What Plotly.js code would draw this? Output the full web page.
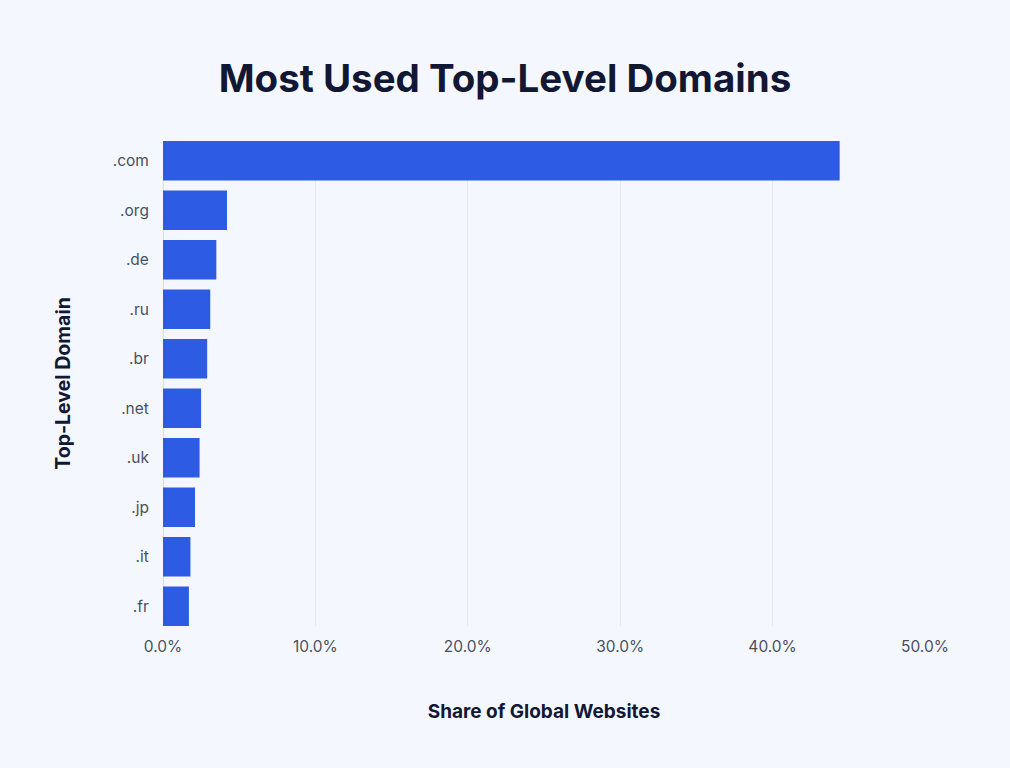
<!DOCTYPE html>
<html>
<head>
<meta charset="utf-8">
<script src="https://cdn.plot.ly/plotly-3.0.1.min.js"></script>
<style>
html,body{margin:0;padding:0;background:#f4f8fe;}
#chart{width:1010px;height:768px;}
</style>
</head>
<body>
<div id="chart"></div>
<script>
const domains = ['.com', '.org', '.de', '.ru', '.br', '.net', '.uk', '.jp', '.it', '.fr'];
const shares = [44.4, 4.2, 3.5, 3.1, 2.9, 2.5, 2.4, 2.1, 1.8, 1.7];
const xTickVals = [0, 10, 20, 30, 40, 50];
const xTickText = ['0.0%', '10.0%', '20.0%', '30.0%', '40.0%', '50.0%'];

const trace = {
  type: 'bar',
  orientation: 'h',
  x: shares,
  y: domains,
  marker: {color: '#2d5be3', line: {width: 0}},
  width: 0.8,
  hoverinfo: 'x+y'
};

const layout = {
  width: 1010,
  height: 768,
  paper_bgcolor: '#f4f8fe',
  plot_bgcolor: '#f4f8fe',
  margin: {l: 163, r: 85, t: 141, b: 142},
  showlegend: false,
  title: {
    text: '<b>Most Used Top-Level Domains</b>',
    font: {family: 'Inter, "Open Sans", sans-serif', size: 38.5, color: '#121733'},
    x: 0.5, xanchor: 'center',
    y: 0.898, yanchor: 'middle', yref: 'container'
  },
  xaxis: {
    range: [0, 50],
    tickvals: xTickVals,
    ticktext: xTickText,
    showgrid: true,
    gridcolor: '#e3e7ee',
    gridwidth: 1,
    zeroline: false,
    showline: false,
    ticks: 'outside', ticklen: 6, tickcolor: 'rgba(0,0,0,0)',
    tickfont: {family: 'Inter, "Open Sans", sans-serif', size: 15.5, color: '#4a4f60'},
    title: {
      text: '<b>Share of Global Websites</b>',
      font: {family: 'Inter, "Open Sans", sans-serif', size: 19, color: '#121733'},
      standoff: 50
    },
    fixedrange: true
  },
  yaxis: {
    type: 'category',
    range: [9.4, -0.4],
    showgrid: false,
    zeroline: false,
    showline: false,
    ticks: 'outside', ticklen: 10, tickcolor: 'rgba(0,0,0,0)',
    tickfont: {family: 'Inter, "Open Sans", sans-serif', size: 15.5, color: '#4a4f60'},
    title: {
      text: '<b>Top-Level Domain</b>',
      font: {family: 'Inter, "Open Sans", sans-serif', size: 19.5, color: '#121733'},
      standoff: 36
    },
    fixedrange: true
  },
  shapes: [{
    type: 'line', xref: 'x', yref: 'paper',
    x0: 0, x1: 0, y0: 0, y1: 1,
    line: {color: '#d6dbe4', width: 2},
    layer: 'below'
  }]
};

Plotly.newPlot('chart', [trace], layout, {displayModeBar: false, staticPlot: true});
</script>
</body>
</html>
